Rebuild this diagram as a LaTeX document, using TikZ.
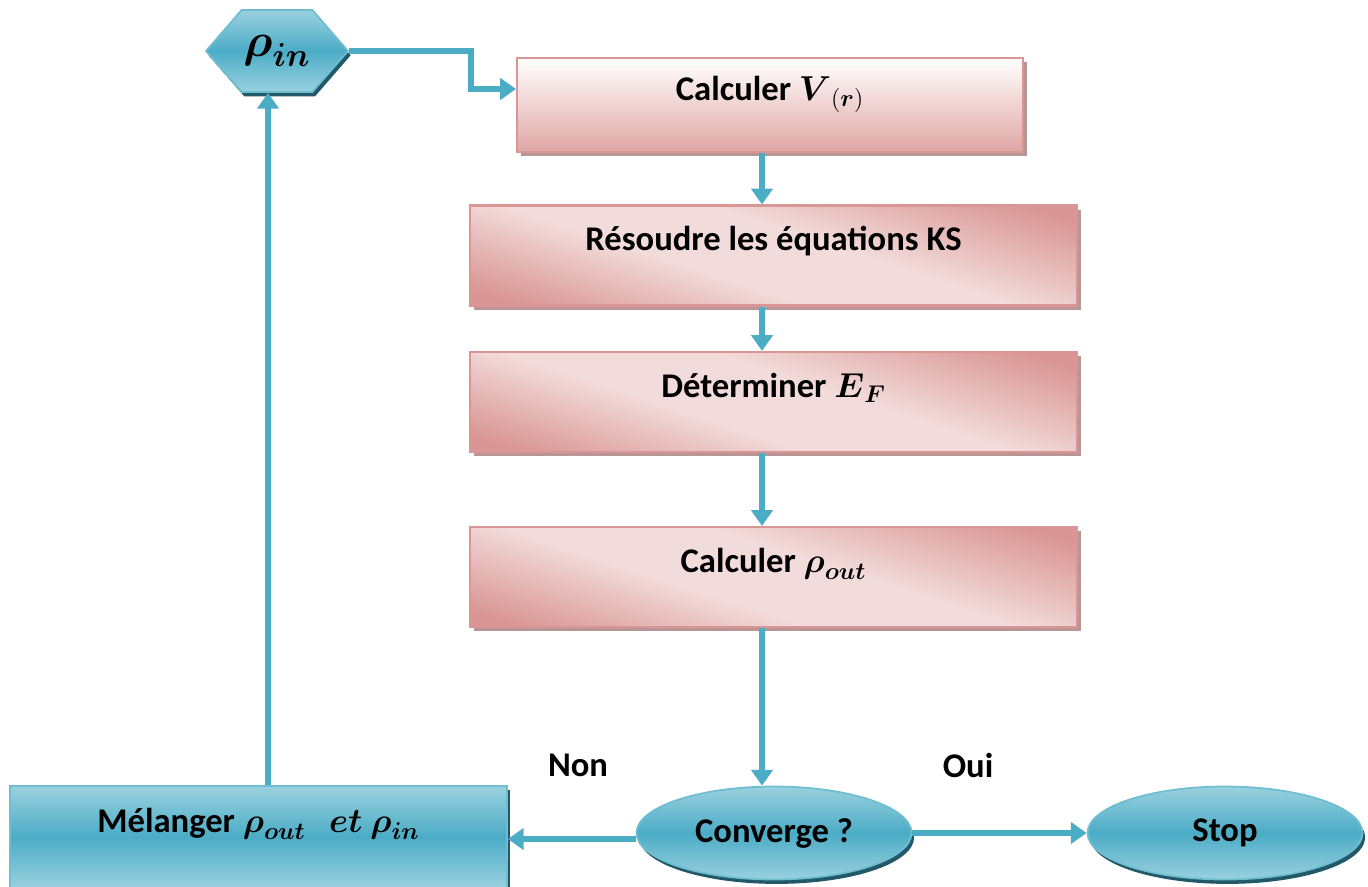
\RequirePackage{fix-cm}
\documentclass[tikz,border=0pt]{standalone}
\usepackage{amsmath}
\usepackage{fontspec}
\setmainfont{Carlito}
\usepackage{tikz}
\usetikzlibrary{arrows.meta,shapes.geometric,shapes.symbols,shadows,positioning,calc}

\definecolor{flowblue}{HTML}{4BACC6}
\definecolor{flowbluelt}{HTML}{9AD1DF}
\definecolor{flowbluedk}{HTML}{215968}
\definecolor{pinklt}{HTML}{F2DCDB}
\definecolor{pinkdk}{HTML}{D99694}
\definecolor{pinkshadow}{HTML}{B89695}

\pgfdeclareverticalshading{pinkband}{100bp}{color(0bp)=(pinkdk); color(22bp)=(pinkdk);
  color(42bp)=(pinklt); color(56bp)=(pinklt); color(78bp)=(pinkdk); color(100bp)=(pinkdk)}

\tikzset{
  txt/.style={font=\bfseries\fontsize{19.7}{23}\selectfont},
  procbox/.style={txt, draw=pinkdk, line width=1.2pt, minimum width=12.14cm, minimum height=2cm,
    shading=pinkband, shading angle=-18,
    text height=0.4cm, text depth=0.6cm,
    drop shadow={shadow xshift=2.5pt, shadow yshift=-2.5pt, fill=pinkshadow, opacity=1}},
  bluefill/.style={txt, draw=flowblue!80!white, line width=1pt,
    top color=flowbluelt, bottom color=flowbluelt, middle color=flowblue,
    drop shadow={shadow xshift=1.5pt, shadow yshift=-2.5pt, fill=flowbluedk, opacity=1}},
  decision/.style={bluefill, ellipse, minimum width=5.5cm, minimum height=1.86cm},
  flow/.style={draw=flowblue, line width=3.2pt, -{Triangle[width=12pt,length=9pt]}}
}

\begin{document}
\begin{tikzpicture}[x=0.02cm, y=-0.02cm]
  \useasboundingbox (0,0) rectangle (1368,886);

  \node[bluefill, signal, signal to=west and east, signal pointer angle=98,
        minimum width=2.84cm, minimum height=1.64cm, inner sep=0pt,
        font=\bfseries\fontsize{27}{30}\selectfont] (rin) at (277,51) {$\boldsymbol{\rho}_{\boldsymbol{in}}$};

  \node[procbox, minimum width=10.12cm, minimum height=1.88cm,
        top color=white, bottom color=pinkdk!85!white, shading angle=0] (calcV) at (770,105) {Calculer $\boldsymbol{V}_{(\boldsymbol{r})}$};
  \node[procbox] (ks) at (773.5,255.5) {Résoudre les équations KS};
  \node[procbox] (ef) at (773.5,402) {Déterminer $\boldsymbol{E}_{\boldsymbol{F}}$};
  \node[procbox] (rout) at (773.5,577) {Calculer $\boldsymbol{\rho}_{\boldsymbol{out}}$};

  \node[decision] (conv) at (774,833) {Converge ?};
  \node[decision] (stop) at (1225,833) {Stop};

  \node[bluefill, minimum width=9.94cm, minimum height=2.04cm, text height=0.4cm, text depth=0.6cm] (mix) at (258.5,837)
    {Mélanger $\boldsymbol{\rho}_{\boldsymbol{out}}\ \ \ \boldsymbol{et}\ \boldsymbol{\rho}_{\boldsymbol{in}}$};

  \node[txt] (non) at (578,765) {Non};
  \node[txt] (oui) at (968,765) {Oui};

  \coordinate (bend) at (471,0);
  \coordinate (spine) at (762,0);
  \coordinate (loop) at (268,0);

  \draw[flow] (rin.east) -- (rin.east -| bend) |- ([yshift=0.32cm]calcV.west);
  \draw[flow] (calcV.south -| spine) -- (ks.north -| spine);
  \draw[flow] (ks.south -| spine) -- (ef.north -| spine);
  \draw[flow] (ef.south -| spine) -- (rout.north -| spine);
  \draw[flow] (rout.south -| spine) -- (conv.north -| spine);
  \draw[flow] ([yshift=-0.12cm]conv.west) -- ([yshift=-0.12cm]conv.west -| mix.east);
  \draw[flow] (conv.east) -- (stop.west);
  \draw[flow] (mix.north -| loop) -- (rin.south -| loop);
\end{tikzpicture}
\end{document}
